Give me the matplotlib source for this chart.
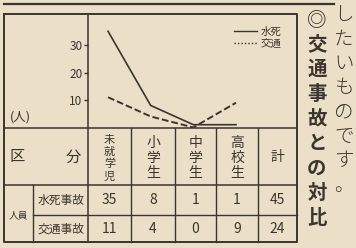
import matplotlib.pyplot as plt
from matplotlib.lines import Line2D

plt.rcParams['font.family'] = ['Noto Sans CJK JP', 'DejaVu Sans']

# データ
groups = ['未就学児', '小学生', '中学生', '高校生']
drown = [35, 8, 1, 1]
traffic = [11, 4, 0, 9]
drown_total = 45
traffic_total = 24
row_labels = ['水死事故', '交通事故']
yticks = [10, 20, 30]
side_right = 'したいものです。'
side_left = '◎交通事故との対比'

bg_color = '#ebdfc8'
ink = '#3b3530'

fig = plt.figure(figsize=(3.56, 2.48), dpi=100, facecolor=bg_color)

# 表の枠（ピクセル座標）
bg = fig.add_axes([0, 0, 1, 1])
bg.set_xlim(0, 356)
bg.set_ylim(248, 0)
bg.axis('off')
bg.set_facecolor(bg_color)

L, R, T, B = 4, 297, 14, 242
col_x = [88, 131, 175, 216, 258, R]
head_y, row1_y, row2_y = 128, 185, 215

bg.plot([4, 334], [4, 4], color=ink, lw=1.6)
bg.plot([L, R, R, L, L], [T, T, B, B, T], color=ink, lw=1.4)
bg.plot([88, 88], [T, B], color=ink, lw=1.1)
bg.plot([L, R], [head_y, head_y], color=ink, lw=1.1)
bg.plot([L, R], [row1_y, row1_y], color=ink, lw=1.1)
bg.plot([33, R], [row2_y, row2_y], color=ink, lw=1.0)
bg.plot([33, 33], [row1_y, B], color=ink, lw=1.0)
for x in col_x[1:-1]:
    bg.plot([x, x], [head_y, B], color=ink, lw=1.0)

centers = [(col_x[i] + col_x[i + 1]) / 2 for i in range(5)]

# 見出し
bg.text(17, 157, '区', fontsize=11, color=ink, ha='center', va='center')
bg.text(73, 157, '分', fontsize=11, color=ink, ha='center', va='center')
for i, g in enumerate(groups):
    n = len(g)
    pitch = 12.3 if n == 4 else 14.8
    y0 = 158 - pitch * (n - 1) / 2
    for k, ch in enumerate(g):
        bg.text(centers[i], y0 + k * pitch, ch, fontsize=8 if n == 4 else 10,
                color=ink, ha='center', va='center')
bg.text(centers[4], 157, '計', fontsize=10, color=ink, ha='center', va='center')

# 数値
bg.text(18, 215, '人員', fontsize=7, color=ink, ha='center', va='center')
for lab, y in zip(row_labels, [200, 229]):
    bg.text(61, y, lab, fontsize=8.5, color=ink, ha='center', va='center')
for i in range(4):
    bg.text(centers[i], 200, str(drown[i]), fontsize=10, color=ink, ha='center', va='center')
    bg.text(centers[i], 229, str(traffic[i]), fontsize=10, color=ink, ha='center', va='center')
bg.text(centers[4], 200, str(drown_total), fontsize=10, color=ink, ha='center', va='center')
bg.text(centers[4], 229, str(traffic_total), fontsize=10, color=ink, ha='center', va='center')

bg.text(20, 117, '(人)', fontsize=9, color=ink, ha='center', va='center')

# 縦書きの本文
for k, ch in enumerate(side_right):
    bg.text(344, 15 + k * 24.3, ch, fontsize=14, color=ink, ha='center', va='center',
            fontweight='light')
for k, ch in enumerate(side_left):
    bg.text(317, 20 + k * 24.8, ch, fontsize=14, color=ink, ha='center', va='center',
            fontweight='bold')

# グラフ
ax = fig.add_axes([88 / 356, (248 - 128) / 248, (297 - 88) / 356, (128 - 14) / 248])
ax.patch.set_alpha(0)
xs = list(range(len(groups)))
ax.plot(xs, drown, color=ink, lw=1.2)
ax.plot(xs, traffic, color=ink, lw=1.4, ls=(0, (3.5, 1.5)))
ax.set_xlim(-0.47, 4.43)
ax.set_ylim(-0.2, 41.3)
ax.set_yticks(yticks)
ax.set_yticklabels([str(v) for v in yticks], fontsize=8.5, color=ink)
ax.set_xticks([])
ax.tick_params(axis='y', direction='out', length=3, width=1, color=ink, pad=1)
for s in ax.spines.values():
    s.set_visible(False)

handles = [Line2D([], [], color=ink, lw=1.0),
           Line2D([], [], color=ink, lw=1.0, ls=(0, (1, 1.5)))]
ax.legend(handles, ['水死', '交通'], loc='upper right', bbox_to_anchor=(0.97, 0.97),
          frameon=False, fontsize=7.5, handlelength=2.3, handletextpad=0.3,
          labelspacing=0.2, labelcolor=ink)

fig.savefig('out.png', dpi=100, facecolor=bg_color)
